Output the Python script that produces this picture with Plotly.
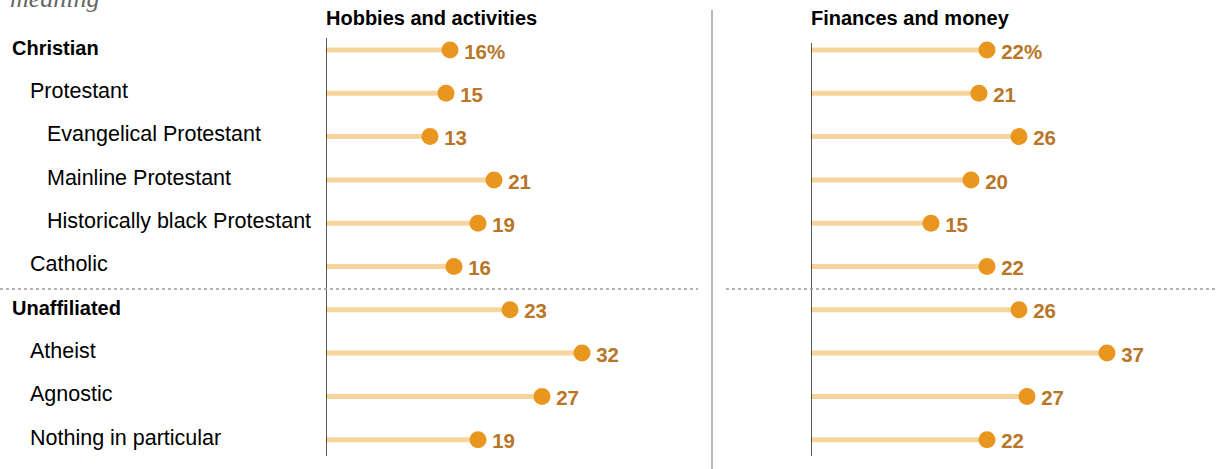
import plotly.graph_objects as go

W, H = 1217, 469

categories = ["Christian", "Protestant", "Evangelical Protestant", "Mainline Protestant",
              "Historically black Protestant", "Catholic", "Unaffiliated", "Atheist",
              "Agnostic", "Nothing in particular"]
levels = [0, 1, 2, 2, 2, 1, 0, 1, 1, 1]
hobbies = [15.5, 15, 13, 21, 19, 16, 23, 32, 27, 19]
hobbies_labels = ["16%", "15", "13", "21", "19", "16", "23", "32", "27", "19"]
finances = [22, 21, 26, 20, 15, 22, 26, 37, 27, 22]
finances_labels = ["22%", "21", "26", "20", "15", "22", "26", "37", "27", "22"]
panel_titles = ["Hobbies and activities", "Finances and money"]

LINE = "#F6D49B"
DOT = "#E8961E"
TXT = "#B97628"
BOLD_FONT = "Liberation Sans, Arial, sans-serif"
BODY_FONT = "Liberation Sans, Arial, sans-serif"

def px_x(p):
    return p / W

def px_y(p):
    return 1 - p / H

row0, step = 50, 43.3
rows = list(range(len(categories)))
yr = [(H - row0) / step, -row0 / step]
label_shift = 3.5 / step

fig = go.Figure()

for vals, labels, xa in [(hobbies, hobbies_labels, "x"), (finances, finances_labels, "x2")]:
    lx, ly = [], []
    for i, v in enumerate(vals):
        lx += [0, v, None]
        ly += [i, i, None]
    fig.add_trace(go.Scatter(x=lx, y=ly, mode="lines", line=dict(color=LINE, width=5),
                             xaxis=xa, yaxis="y", hoverinfo="skip", showlegend=False))
    fig.add_trace(go.Scatter(x=vals, y=rows, mode="markers",
                             marker=dict(color=DOT, size=17),
                             xaxis=xa, yaxis="y", showlegend=False))
    fig.add_trace(go.Scatter(x=vals, y=[r + label_shift for r in rows], mode="markers+text",
                             text=labels, textposition="middle right",
                             textfont=dict(family=BOLD_FONT, size=20.5, color=TXT, weight="bold"),
                             marker=dict(color=DOT, size=21, opacity=0),
                             xaxis=xa, yaxis="y", hoverinfo="skip", showlegend=False))

p1 = (326, 700)
p2 = (811, 1217)
scale = 8.0
fig.update_layout(
    width=W, height=H, margin=dict(l=0, r=0, t=0, b=0),
    plot_bgcolor="white", paper_bgcolor="white",
    xaxis=dict(domain=[px_x(p1[0]), px_x(p1[1])], range=[0, (p1[1] - p1[0]) / scale],
               visible=False, fixedrange=True),
    xaxis2=dict(domain=[px_x(p2[0]), px_x(p2[1])], range=[0, (p2[1] - p2[0]) / scale],
                visible=False, fixedrange=True, anchor="y"),
    yaxis=dict(domain=[0, 1], range=yr, visible=False, fixedrange=True),
)

annotations = []
indent = {0: 12, 1: 30, 2: 47}
for i, (c, lv) in enumerate(zip(categories, levels)):
    annotations.append(dict(
        x=px_x(indent[lv] - 2), xref="paper", y=i - 0.05, yref="y",
        text=f"<b>{c}</b>" if lv == 0 else c, showarrow=False,
        xanchor="left", yanchor="middle",
        font=dict(family=BOLD_FONT if lv == 0 else BODY_FONT, size=20 if lv == 0 else 21.5, color="black")))

for t, p in zip(panel_titles, [p1, p2]):
    annotations.append(dict(x=px_x(p[0] - 2), xref="paper", y=px_y(18), yref="paper",
                            text=f"<b>{t}</b>", showarrow=False, xanchor="left", yanchor="middle",
                            font=dict(family=BOLD_FONT, size=20, color="black")))

annotations.append(dict(x=px_x(8), xref="paper", y=px_y(15), yref="paper",
                        text="<i>meaning</i>", showarrow=False, xanchor="left", yanchor="bottom",
                        font=dict(family="Liberation Serif, DejaVu Serif, serif", size=26, color="#666666")))
fig.update_layout(annotations=annotations)

shapes = []
for xa, top in [("x", 38), ("x2", 43)]:
    shapes.append(dict(type="line", xref=xa, x0=0, x1=0, yref="paper",
                       y0=px_y(top), y1=px_y(456), line=dict(color="black", width=1.3)))
shapes.append(dict(type="line", xref="paper", x0=px_x(712), x1=px_x(712), yref="paper",
                   y0=px_y(10), y1=px_y(469), line=dict(color="#8a8a8a", width=1.2)))
for a, b in [(0, 698), (726, 1217)]:
    shapes.append(dict(type="line", xref="paper", x0=px_x(a), x1=px_x(b), yref="paper",
                       y0=px_y(289), y1=px_y(289), line=dict(color="#999999", width=1.5, dash="dot")))
fig.update_layout(shapes=shapes)

fig.write_html("out.html", config={"displayModeBar": False},
               post_script="document.body.style.margin='0';document.body.style.padding='0';")
